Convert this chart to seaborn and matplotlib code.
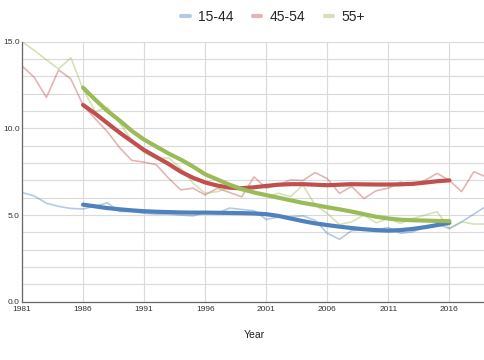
import numpy as np
import pandas as pd
import matplotlib
matplotlib.use("Agg")
import matplotlib.pyplot as plt
from matplotlib.lines import Line2D
from matplotlib.ticker import MultipleLocator
import seaborn as sns

GROUPS = ["15-44", "45-54", "55+"]
COLORS = ["#4F81BD", "#C0504D", "#9BBB59"]

YEARS = list(range(1981, 2020))
RAW_15_44 = [6.3, 6.1, 5.68, 5.5, 5.38, 5.35, 5.52, 5.7, 5.2, 5.2,
             5.1, 5.05, 5.05, 5.0, 4.95, 5.15, 5.1, 5.4, 5.32, 5.25,
             4.75, 4.88, 4.9, 4.95, 4.7, 3.95, 3.6, 4.1, 4.15, 4.15,
             4.28, 3.95, 4.03, 4.3, 4.48, 4.22, 4.6, 5.05, 5.5]
RAW_45_54 = [13.6, 12.95, 11.78, 13.37, 12.85, 11.35, 10.55, 9.8, 8.88, 8.15,
             8.05, 7.9, 7.13, 6.45, 6.55, 6.16, 6.55, 6.3, 6.05, 7.2,
             6.55, 6.74, 7.03, 6.99, 7.45, 7.1, 6.25, 6.65, 5.95, 6.4,
             6.55, 6.9, 6.75, 7.0, 7.4, 7.0, 6.35, 7.5, 7.2]
RAW_55 = [15.0, 14.5, 13.95, 13.43, 14.07, 12.27, 10.97, 11.2, 10.3, 9.3,
          8.6, 8.24, 8.3, 7.7, 6.84, 6.26, 6.35, 6.57, 6.4, 6.3,
          6.06, 6.26, 6.06, 6.74, 5.58, 5.1, 4.45, 4.61, 5.0, 4.55,
          4.8, 4.52, 4.8, 5.0, 5.19, 4.22, 4.61, 4.48, 4.48]

# smoothed trend lines, 1986-2016
TREND_YEARS = list(range(1986, 2017))
TREND_15_44 = [5.6, 5.5, 5.4, 5.33, 5.27, 5.22, 5.19, 5.17, 5.15, 5.14,
               5.14, 5.13, 5.12, 5.11, 5.09, 5.05, 4.95, 4.8, 4.65, 4.52,
               4.42, 4.33, 4.25, 4.18, 4.13, 4.1, 4.13, 4.2, 4.3, 4.42, 4.55]
TREND_45_54 = [11.35, 10.85, 10.3, 9.75, 9.25, 8.75, 8.35, 7.95, 7.5, 7.15,
               6.88, 6.7, 6.58, 6.55, 6.6, 6.68, 6.75, 6.78, 6.78, 6.75,
               6.72, 6.75, 6.78, 6.77, 6.76, 6.76, 6.77, 6.8, 6.87, 6.95, 7.0]
TREND_55 = [12.35, 11.65, 11.0, 10.45, 9.85, 9.35, 8.95, 8.55, 8.2, 7.8,
            7.35, 7.05, 6.75, 6.5, 6.3, 6.15, 6.0, 5.85, 5.7, 5.58,
            5.45, 5.33, 5.2, 5.05, 4.9, 4.8, 4.73, 4.7, 4.68, 4.66, 4.65]

XTICKS = [1981, 1986, 1991, 1996, 2001, 2006, 2011, 2016]

raw = pd.DataFrame({
    "Year": YEARS * 3,
    "Rate": RAW_15_44 + RAW_45_54 + RAW_55,
    "Group": [g for g in GROUPS for _ in YEARS],
})
trend = pd.DataFrame({
    "Year": TREND_YEARS * 3,
    "Rate": TREND_15_44 + TREND_45_54 + TREND_55,
    "Group": [g for g in GROUPS for _ in TREND_YEARS],
})

sns.set_style("white")
plt.rcParams["font.family"] = ["Liberation Sans", "DejaVu Sans"]

fig = plt.figure(figsize=(4.85, 3.6), dpi=100)
ax = fig.add_axes([22 / 485, 1 - 301.7 / 360, 464 / 485, 260 / 360])

palette = dict(zip(GROUPS, COLORS))
sns.lineplot(data=raw, x="Year", y="Rate", hue="Group", palette=palette,
             linewidth=1.2, alpha=0.42, legend=False, ax=ax)
sns.lineplot(data=trend, x="Year", y="Rate", hue="Group", palette=palette,
             linewidth=3, legend=False, ax=ax)

ax.set_xlim(1981, 2019)
ax.set_ylim(0, 15)
ax.set_xticks(XTICKS)
ax.set_xticklabels([str(y) for y in XTICKS], fontsize=6, color="#333333")
ax.yaxis.set_major_locator(MultipleLocator(5))
ax.yaxis.set_minor_locator(MultipleLocator(1))
ax.set_yticklabels([f"{v:.1f}" for v in ax.get_yticks()], fontsize=6,
                   color="#333333")
ax.tick_params(axis="both", which="both", length=0)
ax.tick_params(axis="y", pad=1.5)
ax.tick_params(axis="x", pad=3)
ax.grid(True, which="major", axis="x", color="#dadada", linewidth=0.8)
ax.grid(True, which="both", axis="y", color="#dadada", linewidth=0.8)
ax.set_axisbelow(True)
for s in ["top", "right"]:
    ax.spines[s].set_visible(False)
for s in ["left", "bottom"]:
    ax.spines[s].set_color("#666666")
    ax.spines[s].set_linewidth(0.9)
ax.set_xlabel("Year", fontsize=7.5, color="#222222", labelpad=12)
ax.set_ylabel("")

handles = [Line2D([0], [0], color=c, alpha=0.42, linewidth=3) for c in COLORS]
fig.legend(handles, GROUPS, loc="center", bbox_to_anchor=(273 / 485, 1 - 17 / 360),
           ncol=3, frameon=False, fontsize=10, handlelength=0.6,
           handletextpad=0.6, columnspacing=1.4)

fig.savefig("out.png", dpi=100)
